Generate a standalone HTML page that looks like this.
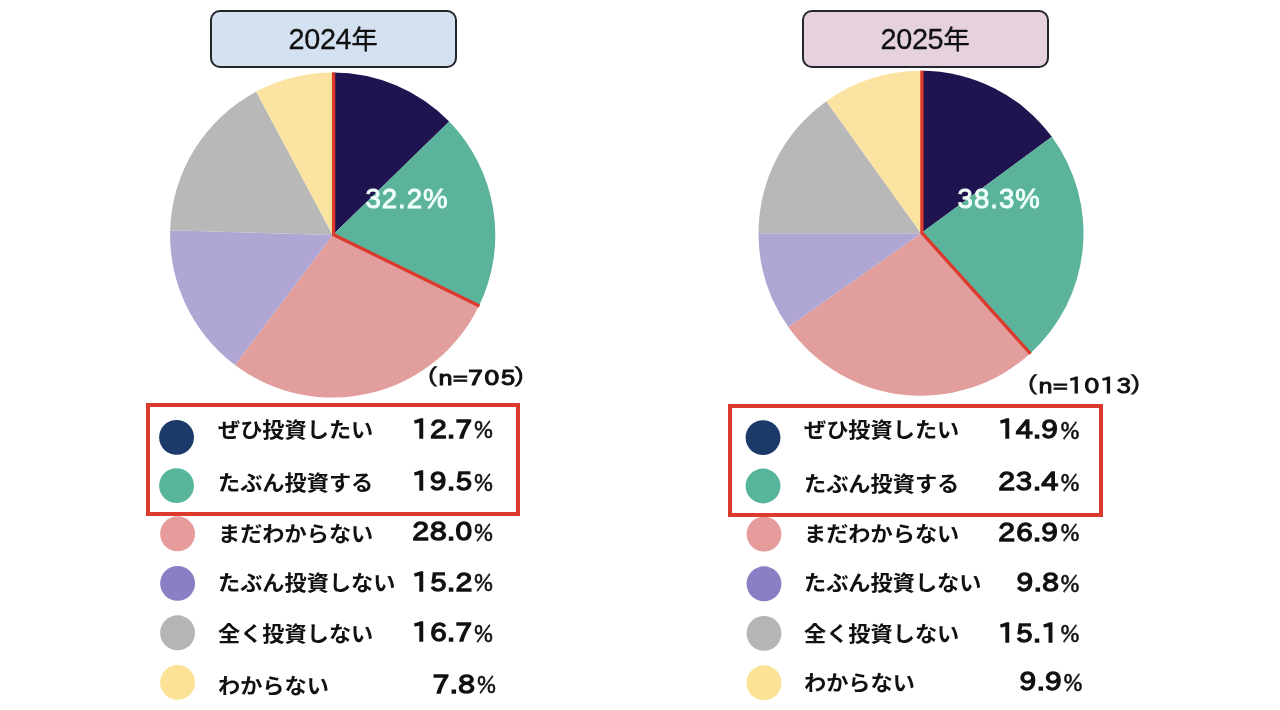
<!DOCTYPE html>
<html lang="ja">
<head>
<meta charset="utf-8">
<title>投資意向 2024年 / 2025年</title>
<style>
html,body{margin:0;padding:0;background:#fff;}
body{width:1280px;height:710px;position:relative;overflow:hidden;font-family:"Liberation Sans","Noto Sans CJK JP",sans-serif;color:#111;}
svg{position:absolute;left:0;top:0;}
.ttl{position:absolute;top:10px;width:243px;height:54px;border:2px solid #23262b;border-radius:10px;text-align:center;font-size:28.8px;line-height:55.2px;color:#111;-webkit-text-stroke:0.3px #111;letter-spacing:-0.3px;text-indent:-1px;}
.ttl span{font-size:26.5px;}
.t1{left:210px;background:#d3e1f0;}
.t2{left:802px;background:#e6d2de;}
.big{position:absolute;font-size:27.6px;line-height:30px;color:#f0fffa;-webkit-text-stroke:0.9px #f0fffa;white-space:nowrap;letter-spacing:1px;}
.n{position:absolute;font-family:"IPAPGothic","Noto Sans CJK JP","Liberation Sans",sans-serif;font-weight:400;-webkit-text-stroke:1.2px #111;font-size:21.5px;line-height:30px;white-space:nowrap;letter-spacing:0;transform:scaleX(1.12);transform-origin:0 50%;}
.n .pp{-webkit-text-stroke:1px #111;}
.n .pr{margin-left:-2.6px;}
.n .dg{letter-spacing:0.9px;}
.lab{position:absolute;font-family:"Liberation Sans","Noto Sans CJK JP",sans-serif;font-weight:700;font-size:22.2px;line-height:40px;white-space:nowrap;transform:scaleY(0.94);transform-origin:0 54%;}
.num{position:absolute;width:113px;text-align:right;line-height:50px;white-space:nowrap;}
.num .d{display:inline-block;font-family:"IPAPGothic","Noto Sans CJK JP","Liberation Sans",sans-serif;font-weight:400;font-size:24.9px;letter-spacing:0.6px;-webkit-text-stroke:1.45px #111;transform:scaleX(1.09);transform-origin:100% 50%;}
.num .p{display:inline-block;font-family:"IPAPGothic","Noto Sans CJK JP","Liberation Sans",sans-serif;font-weight:400;font-size:23px;-webkit-text-stroke:0.5px #111;margin-left:0.2px;position:relative;top:0.8px;left:0.6px;}
.rb{position:absolute;box-sizing:border-box;border:4.3px solid #dc3a2c;}
</style>
</head>
<body>
<svg width="1280" height="710" viewBox="0 0 1280 710">
<path d="M332.70 235.00L332.70 72.40A162.6 162.6 0 0 1 449.20 121.57Z" fill="#1f1350"/>
<path d="M332.70 235.00L449.20 121.57A162.6 162.6 0 0 1 478.80 306.37Z" fill="#5ab39a"/>
<path d="M332.70 235.00L478.80 306.37A162.6 162.6 0 0 1 234.99 364.97Z" fill="#e19e9c"/>
<path d="M332.70 235.00L234.99 364.97A162.6 162.6 0 0 1 170.17 230.14Z" fill="#b0a6d3"/>
<path d="M332.70 235.00L170.17 230.14A162.6 162.6 0 0 1 256.09 91.58Z" fill="#b8b8b8"/>
<path d="M332.70 235.00L256.09 91.58A162.6 162.6 0 0 1 332.70 72.40Z" fill="#fbe4a1"/>
<path d="M333.60 72.40L333.60 234.70L479.44 306.08" fill="none" stroke="#dc3a2c" stroke-width="3.3" stroke-linejoin="miter"/>
<path d="M921.00 233.20L921.00 70.70A162.5 162.5 0 0 1 1051.86 136.86Z" fill="#1f1350"/>
<path d="M921.00 233.20L1051.86 136.86A162.5 162.5 0 0 1 1029.99 353.73Z" fill="#5ab39a"/>
<path d="M921.00 233.20L1029.99 353.73A162.5 162.5 0 0 1 788.34 327.06Z" fill="#e19e9c"/>
<path d="M921.00 233.20L788.34 327.06A162.5 162.5 0 0 1 758.50 233.20Z" fill="#b0a6d3"/>
<path d="M921.00 233.20L758.50 233.20A162.5 162.5 0 0 1 826.31 101.14Z" fill="#b8b8b8"/>
<path d="M921.00 233.20L826.31 101.14A162.5 162.5 0 0 1 921.00 70.70Z" fill="#fbe4a1"/>
<path d="M921.90 70.70L921.90 232.90L1030.49 353.73" fill="none" stroke="#dc3a2c" stroke-width="3.3" stroke-linejoin="miter"/>
<circle cx="176.55" cy="437.35" r="17.45" fill="#1c3a69"/>
<circle cx="176.55" cy="485.6" r="17.45" fill="#57b59b"/>
<circle cx="177.6" cy="533.8" r="17.45" fill="#e59c9b"/>
<circle cx="177.6" cy="583.4" r="17.45" fill="#8b7ec5"/>
<circle cx="177.6" cy="632.8" r="17.45" fill="#b5b5b5"/>
<circle cx="177.6" cy="682.4" r="17.45" fill="#fce297"/>
<circle cx="763.0" cy="437.6" r="17.45" fill="#1c3a69"/>
<circle cx="763.0" cy="486.0" r="17.45" fill="#57b59b"/>
<circle cx="764.0" cy="534.1" r="17.45" fill="#e59c9b"/>
<circle cx="764.0" cy="583.8" r="17.45" fill="#8b7ec5"/>
<circle cx="764.0" cy="633.4" r="17.45" fill="#b5b5b5"/>
<circle cx="764.0" cy="682.8" r="17.45" fill="#fce297"/>
</svg>
<div class="ttl t1">2024<span>年</span></div>
<div class="ttl t2">2025<span>年</span></div>
<div class="big" style="left:365.4px;top:183.8px">32.2%</div>
<div class="big" style="left:957.6px;top:183.8px">38.3%</div>
<div class="n" style="left:425.4px;top:362.3px"><span class="pp">（</span>n=<span class="dg">705</span><span class="pp pr">）</span></div>
<div class="n" style="left:1024.8px;top:370.1px;-webkit-text-stroke-width:1.05px"><span class="pp">（</span>n=<span class="dg">1013</span><span class="pp pr">）</span></div>
<div class="rb" style="left:145.5px;top:403.4px;width:374.6px;height:112.5px"></div>
<div class="rb" style="left:728.4px;top:404.4px;width:374.3px;height:112.5px"></div>
<div class="lab" style="left:218px;top:410.0px">ぜひ投資したい</div>
<div class="num" style="left:379.8px;top:403.6px"><span class="d">12.7</span><span class="p">%</span></div>
<div class="lab" style="left:218px;top:463.3px">たぶん投資する</div>
<div class="num" style="left:379.8px;top:455.8px"><span class="d">19.5</span><span class="p">%</span></div>
<div class="lab" style="left:218px;top:513.5px">まだわからない</div>
<div class="num" style="left:379.8px;top:506.2px"><span class="d">28.0</span><span class="p">%</span></div>
<div class="lab" style="left:218px;top:562.7px">たぶん投資しない</div>
<div class="num" style="left:379.8px;top:556.6px"><span class="d">15.2</span><span class="p">%</span></div>
<div class="lab" style="left:218px;top:613.5px">全く投資しない</div>
<div class="num" style="left:379.8px;top:607.2px"><span class="d">16.7</span><span class="p">%</span></div>
<div class="lab" style="left:218px;top:665.8px">わからない</div>
<div class="num" style="left:382.8px;top:658.7px"><span class="d">7.8</span><span class="p">%</span></div>
<div class="lab" style="left:804px;top:410.4px">ぜひ投資したい</div>
<div class="num" style="left:966.2px;top:404.0px"><span class="d">14.9</span><span class="p">%</span></div>
<div class="lab" style="left:804px;top:463.7px">たぶん投資する</div>
<div class="num" style="left:966.2px;top:456.2px"><span class="d">23.4</span><span class="p">%</span></div>
<div class="lab" style="left:804px;top:513.9px">まだわからない</div>
<div class="num" style="left:966.2px;top:506.6px"><span class="d">26.9</span><span class="p">%</span></div>
<div class="lab" style="left:804px;top:563.1px">たぶん投資しない</div>
<div class="num" style="left:966.2px;top:557.0px"><span class="d">9.8</span><span class="p">%</span></div>
<div class="lab" style="left:804px;top:613.9px">全く投資しない</div>
<div class="num" style="left:966.2px;top:607.6px"><span class="d">15.1</span><span class="p">%</span></div>
<div class="lab" style="left:804px;top:663.2px">わからない</div>
<div class="num" style="left:969.2px;top:656.4px"><span class="d">9.9</span><span class="p">%</span></div>
</body>
</html>
